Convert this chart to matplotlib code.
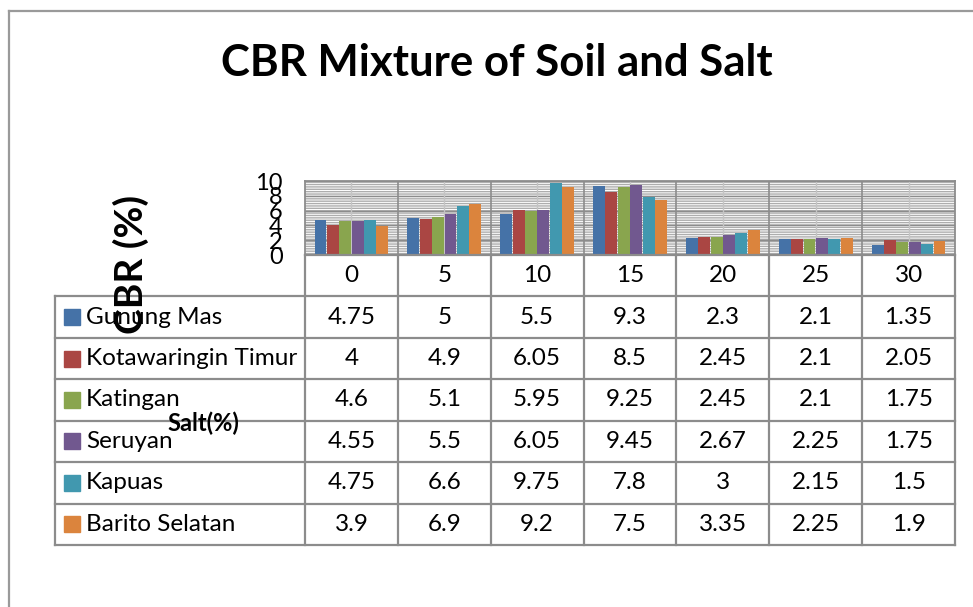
import matplotlib
matplotlib.use("Agg")
import matplotlib.pyplot as plt
from matplotlib.patches import Rectangle
from matplotlib.lines import Line2D
import matplotlib.transforms as mtransforms

plt.rcParams['font.family'] = ['Lato', 'DejaVu Sans']
plt.rcParams['hatch.linewidth'] = 1.0

salt = ["0", "5", "10", "15", "20", "25", "30"]
regions = ["Gunung Mas", "Kotawaringin Timur", "Katingan", "Seruyan",
           "Kapuas", "Barito Selatan"]
gunung_mas = [4.75, 5, 5.5, 9.3, 2.3, 2.1, 1.35]
kotawaringin_timur = [4, 4.9, 6.05, 8.5, 2.45, 2.1, 2.05]
katingan = [4.6, 5.1, 5.95, 9.25, 2.45, 2.1, 1.75]
seruyan = [4.55, 5.5, 6.05, 9.45, 2.67, 2.25, 1.75]
kapuas = [4.75, 6.6, 9.75, 7.8, 3, 2.15, 1.5]
barito_selatan = [3.9, 6.9, 9.2, 7.5, 3.35, 2.25, 1.9]
series = [gunung_mas, kotawaringin_timur, katingan, seruyan, kapuas,
          barito_selatan]
value_labels = [
    ["4.75", "5", "5.5", "9.3", "2.3", "2.1", "1.35"],
    ["4", "4.9", "6.05", "8.5", "2.45", "2.1", "2.05"],
    ["4.6", "5.1", "5.95", "9.25", "2.45", "2.1", "1.75"],
    ["4.55", "5.5", "6.05", "9.45", "2.67", "2.25", "1.75"],
    ["4.75", "6.6", "9.75", "7.8", "3", "2.15", "1.5"],
    ["3.9", "6.9", "9.2", "7.5", "3.35", "2.25", "1.9"],
]
colors = ["#4572A7", "#AA4643", "#89A54E", "#71588F", "#4198AF", "#DB843D"]

W, H = 973, 607
fig = plt.figure(figsize=(W / 100, H / 100), dpi=100)
fig.patch.set_facecolor("white")

line_col = "#8c8c8c"
cell_fs = 17.5

# outer chart frame (top and left edges)
fig.add_artist(Line2D([9 / W, 1], [1 - 11 / H, 1 - 11 / H],
                      transform=fig.transFigure, color="#9a9a9a", lw=1.6))
fig.add_artist(Line2D([9 / W, 9 / W], [0, 1 - 11 / H],
                      transform=fig.transFigure, color="#9a9a9a", lw=1.6))

# bar plot area
left, right = 305 / W, 955 / W
ax = fig.add_axes([left, (H - 255) / H, right - left, 74 / H])
n = len(salt)
ax.set_xlim(-0.5, n - 0.5)
ax.set_ylim(0, 10)

# striped background
ax.add_patch(Rectangle((0, 0), 1, 1, transform=ax.transAxes, facecolor="white",
                       edgecolor="#adadad", hatch="-" * 7, lw=0, zorder=0))
for yv in [2, 4, 6, 8, 10]:
    ax.axhline(yv, color=line_col, lw=1.0, zorder=1)
for i in range(n):
    ax.axvline(i, color="#c4c4c4", lw=1.0, zorder=1)
for i in range(n - 1):
    ax.axvline(i + 0.5, color=line_col, lw=1.2, zorder=1)

bw = 0.8 / len(series)
for j, (vals, c) in enumerate(zip(series, colors)):
    xs = [i + (j - (len(series) - 1) / 2) * bw for i in range(n)]
    ax.bar(xs, vals, width=bw * 0.96, color=c, zorder=3, lw=0)

ax.set_yticks([0, 2, 4, 6, 8, 10])
ax.set_yticklabels(["0", "2", "4", "6", "8", "10"], fontsize=17)
ax.tick_params(axis="y", length=0, pad=16)
ax.set_xticks([])
for s in ax.spines.values():
    s.set_color(line_col)
    s.set_linewidth(1.3)

# data table beneath the bars
tax = fig.add_axes([left, (H - 545) / H, right - left, 290 / H])
tax.set_xlim(-0.5, n - 0.5)
tax.set_ylim(len(series) + 1, 0)
tax.axis("off")

x_left = (55 - 305) / ((right - left) * W / n) - 0.5
rows = len(series) + 1
kw = dict(color=line_col, lw=1.6, clip_on=False)
tax.plot([-0.5, n - 0.5], [0, 0], **kw)
for r in range(1, rows + 1):
    tax.plot([x_left, n - 0.5], [r, r], **kw)
tax.plot([x_left, x_left], [1, rows], **kw)
for k in range(n + 1):
    tax.plot([k - 0.5, k - 0.5], [0, rows], **kw)

for i, lab in enumerate(salt):
    tax.text(i, 0.5, lab, ha="center", va="center", fontsize=cell_fs,
             color="black")
for r, labs in enumerate(value_labels):
    for i, lab in enumerate(labs):
        tax.text(i, r + 1.5, lab, ha="center", va="center", fontsize=cell_fs,
                 color="black")

blend = mtransforms.blended_transform_factory(fig.transFigure, tax.transData)
for r, (name, c) in enumerate(zip(regions, colors)):
    tax.plot([71.5 / W], [r + 1.5], marker="s", markersize=11, color=c,
             transform=blend, clip_on=False, lw=0)
    tax.text(86 / W, r + 1.5, name, ha="left", va="center", fontsize=cell_fs,
             color="black", transform=blend)

fig.text(497 / W, 1 - 63 / H, "CBR Mixture of Soil and Salt", ha="center",
         va="center", fontsize=31.5, fontweight="bold")
fig.text(131 / W, 1 - 264 / H, "CBR (%)", ha="center", va="center",
         rotation=90, fontsize=28, fontweight="bold")
fig.text(203 / W, 1 - 423 / H, "Salt(%)", ha="center", va="center",
         fontsize=17, fontweight="bold")

fig.savefig("out.png", dpi=100)
